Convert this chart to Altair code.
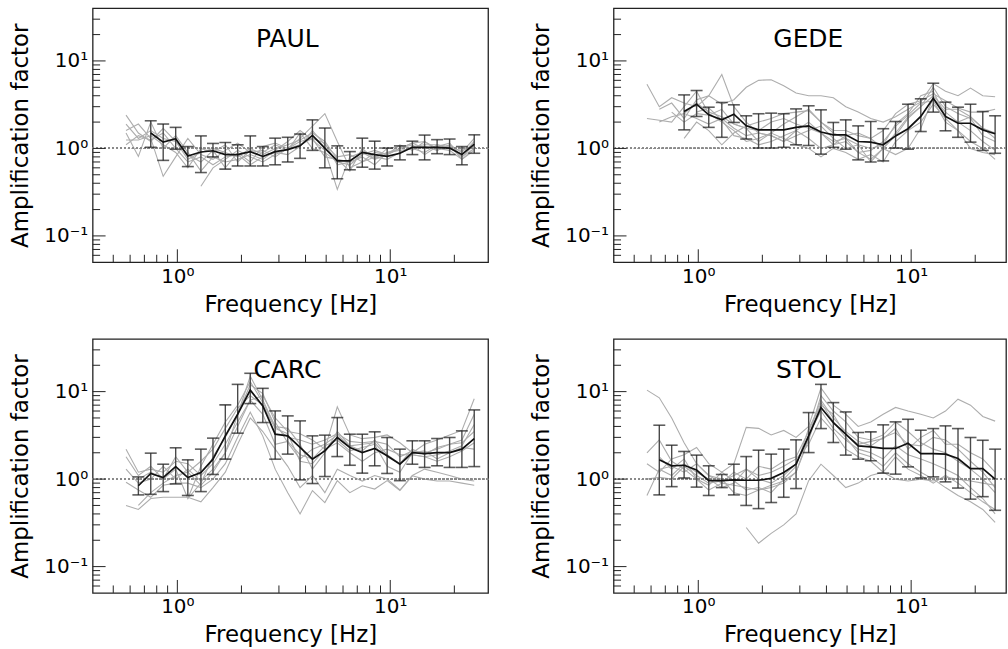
import altair as alt
import pandas as pd

# ---------------- data ----------------
FREQ = [0.574, 0.656, 0.75, 0.858, 0.982, 1.12, 1.29, 1.47, 1.68, 1.92, 2.20, 2.52, 2.88,
        3.30, 3.77, 4.31, 4.93, 5.64, 6.46, 7.39, 8.45, 9.67, 11.1, 12.7, 14.5, 16.6, 19.0, 21.7, 24.8]

N = None

PAUL_MEAN = [N, N, 1.50, 1.18, 1.29, 0.82, 0.91, 0.94, 0.85, 0.85, 0.92, 0.81, 0.92, 0.97, 1.07, 1.41,
             1.01, 0.72, 0.72, 0.90, 0.85, 0.81, 0.88, 1.03, 1.03, 1.03, 1.01, 0.85, 1.12]
PAUL_HI = [N, N, 2.07, 1.90, 1.74, 1.05, 1.39, 1.14, 1.17, 1.10, 1.39, 1.05, 1.31, 1.34, 1.46, 2.12,
           1.71, 1.07, 0.92, 1.31, 1.21, 1.01, 1.07, 1.21, 1.42, 1.26, 1.28, 1.05, 1.43]
PAUL_LO = [N, N, 1.03, 0.73, 0.98, 0.62, 0.53, 0.80, 0.58, 0.63, 0.63, 0.63, 0.65, 0.70, 0.77, 0.95,
           0.60, 0.45, 0.57, 0.61, 0.58, 0.63, 0.74, 0.85, 0.74, 0.87, 0.85, 0.65, 0.88]
PAUL_CURVES = [
    [1.9, 1.3, 1.6, 1.3, 1.2, 0.75, 0.9, 1.0, 0.9, 0.8, 1.0, 0.85, 1.0, 1.1, 1.25, 1.5, 1.2, 0.75, 0.7, 0.95, 0.8, 0.75, 0.9, 1.05, 1.1, 1.1, 1.05, 0.8, 1.1],
    [1.5, 0.81, 2.0, 1.0, 1.4, 0.9, 0.55, 0.8, 0.7, 0.75, 0.85, 0.75, 0.95, 1.2, 1.6, 1.25, 0.95, 0.34, 0.8, 0.9, 0.75, 0.85, 1.0, 1.15, 1.0, 1.05, 1.0, 0.85, 1.2],
    [2.4, 1.5, 1.2, 1.7, 1.2, 0.85, 0.7, 0.95, 0.6, 0.9, 0.7, 1.05, 1.15, 1.0, 1.3, 1.8, 2.5, 1.2, 0.6, 0.7, 0.9, 0.85, 1.1, 0.95, 1.2, 0.95, 1.1, 0.9, 1.3],
    [1.25, 1.25, 1.4, 1.1, 0.9, 0.6, 1.0, 0.9, 1.1, 0.7, 0.95, 0.9, 1.1, 0.95, 1.5, 1.0, 0.9, 0.7, 0.65, 0.85, 0.95, 0.85, 1.0, 1.1, 0.85, 1.05, 1.15, 0.8, 1.0],
    [1.6, 1.9, 1.3, 0.48, 0.8, 1.3, 0.85, 0.75, 0.95, 1.15, 0.9, 0.95, 0.8, 1.0, 1.2, 1.3, 0.8, 0.75, 0.55, 1.0, 0.75, 1.0, 1.05, 1.0, 0.9, 1.1, 1.0, 0.95, 1.05],
    [N, N, N, N, N, N, 0.37, 0.6, 0.75, 0.95, 0.8, 0.7, 0.85, 1.0, 1.1, 1.3, 1.15, 0.65, 0.7, 0.8, 0.65, 0.9, 0.95, 1.0, 1.05, 0.95, 1.1, 0.75, 1.0],
    [1.1, 1.4, 1.25, 1.5, 1.0, 0.7, 0.8, 0.65, 0.8, 0.85, 0.65, 0.8, 0.9, 0.85, 1.05, 1.6, 1.1, 0.8, 0.85, 0.7, 0.8, 0.9, 1.0, 1.15, 1.2, 1.0, 0.95, 0.75, 0.95],
]

GEDE_MEAN = [N, N, N, 2.64, 3.20, 2.42, 2.12, 2.46, 1.81, 1.63, 1.63, 1.63, 1.74, 1.81, 1.54, 1.43,
             1.43, 1.20, 1.18, 1.10, 1.39, 1.68, 2.32, 3.75, 2.32, 1.94, 1.94, 1.63, 1.47]
GEDE_HI = [N, N, N, 4.09, 4.59, 2.96, 3.35, 3.15, 2.36, 2.49, 2.53, 2.49, 2.83, 3.07, 2.76, 1.98,
           2.12, 1.81, 2.03, 1.68, 2.03, 3.20, 3.69, 5.56, 3.38, 2.96, 3.20, 2.64, 2.36]
GEDE_LO = [N, N, N, 1.63, 2.32, 1.74, 1.34, 1.98, 1.28, 1.01, 1.01, 1.03, 1.10, 1.08, 0.86, 1.03,
           0.98, 0.74, 0.70, 0.72, 1.01, 0.98, 1.56, 2.60, 1.59, 1.34, 1.18, 0.95, 0.88]
GEDE_CURVES = [
    [5.4, 3.0, 3.8, 3.3, 3.0, 4.0, 3.2, 3.6, 5.0, 6.0, 6.1, 5.2, 4.3, 4.0, 4.0, 3.8, 3.0, 2.6, 2.2, 2.0, 2.3, 2.8, 3.4, 5.5, 4.5, 4.0, 4.9, 4.0, 3.9],
    [2.2, 2.1, 2.0, 3.0, 4.5, 2.5, 2.0, 1.6, 1.2, 1.3, 1.5, 1.9, 2.3, 2.8, 2.0, 1.5, 1.3, 0.9, 0.75, 1.0, 1.4, 2.2, 3.0, 5.0, 3.0, 2.5, 2.2, 1.4, 1.2],
    [N, 2.8, 3.3, 2.2, 3.6, 4.0, 7.0, 3.0, 2.0, 1.5, 1.4, 1.2, 1.6, 2.0, 1.5, 1.1, 1.4, 1.5, 1.3, 1.0, 0.85, 1.0, 1.7, 3.8, 2.6, 2.0, 1.6, 1.2, 0.95],
    [N, N, 2.6, 2.0, 2.5, 2.4, 2.8, 1.9, 1.7, 1.2, 1.5, 1.3, 1.1, 1.0, 0.8, 1.0, 0.9, 0.75, 0.85, 0.7, 1.2, 1.6, 2.0, 3.2, 2.2, 1.6, 1.0, 0.9, 0.85],
    [N, 2.0, 2.3, 2.5, 2.2, 1.9, 2.2, 1.7, 1.4, 1.5, 1.4, 1.2, 1.4, 1.6, 1.8, 1.3, 1.0, 1.1, 0.7, 1.0, 1.5, 2.3, 3.0, 4.0, 2.8, 2.8, 2.3, 1.7, 1.5],
    [N, N, N, 1.3, 2.0, 1.6, 1.1, 1.5, 1.8, 2.0, 2.2, 2.5, 2.6, 2.7, 2.0, 1.6, 1.6, 1.4, 1.3, 1.6, 2.5, 3.2, 3.5, 4.2, 3.5, 2.9, 2.6, 2.6, 2.8],
    [N, N, N, N, 2.6, 2.9, 2.1, 1.4, 1.3, 1.1, 1.2, 1.4, 1.6, 1.3, 1.0, 1.1, 1.2, 0.9, 0.95, 1.2, 1.8, 2.4, 3.3, 3.5, 2.0, 1.6, 1.2, 1.0, 0.75],
    [N, N, N, 2.5, 3.3, 2.6, 2.3, 1.9, 1.7, 1.6, 2.0, 2.2, 1.9, 1.7, 1.5, 1.2, 1.3, 1.1, 1.0, 1.1, 1.9, 2.5, 4.0, 4.5, 2.3, 2.0, 2.3, 1.7, 1.3],
]

CARC_MEAN = [N, 0.84, 1.16, 1.04, 1.39, 1.04, 1.19, 1.69, 3.12, 5.51, 10.4, 6.87, 3.26, 3.12, 2.30,
             1.69, 2.10, 2.99, 2.30, 2.01, 2.24, 1.85, 1.48, 2.01, 1.96, 2.01, 2.01, 2.20, 2.91]
CARC_HI = [N, 1.06, 1.98, 1.48, 2.28, 1.66, 2.20, 2.94, 7.05, 12.1, 16.2, 10.9, 6.02, 5.28, 4.63,
           3.12, 3.18, 5.05, 3.26, 3.26, 3.47, 2.99, 2.20, 2.74, 2.74, 2.91, 2.99, 3.56, 6.18]
CARC_LO = [N, 0.66, 0.67, 0.72, 0.88, 0.65, 0.72, 1.13, 1.69, 3.35, 7.30, 4.43, 1.69, 1.93, 0.98,
           0.89, 1.07, 1.81, 1.44, 1.17, 1.42, 1.16, 0.96, 1.48, 1.36, 1.42, 1.36, 1.36, 1.39]
CARC_CURVES = [
    [2.2, 1.2, 1.3, 1.2, 1.6, 1.5, 1.1, 1.5, 2.5, 4.5, 8.0, 9.0, 5.0, 3.5, 3.3, 2.8, 2.2, 6.7, 3.2, 2.9, 3.0, 3.2, 2.6, 2.0, 2.5, 2.8, 3.2, 3.6, 8.3],
    [1.3, 0.9, 1.0, 1.4, 1.0, 1.3, 0.95, 1.3, 2.0, 5.5, 15.0, 8.0, 4.0, 3.8, 2.5, 1.3, 2.0, 3.5, 2.4, 2.1, 2.8, 1.9, 1.5, 2.2, 1.9, 2.3, 2.5, 2.8, 5.5],
    [0.92, 0.75, 0.62, 0.85, 0.9, 0.9, 0.8, 1.0, 1.5, 3.0, 5.8, 3.1, 1.3, 0.7, 0.4, 0.74, 0.54, 0.96, 0.7, 0.84, 0.77, 0.96, 0.74, 1.09, 1.0, 0.95, 0.95, 0.9, 0.85],
    [0.5, 0.45, 0.6, 0.62, 0.62, 0.62, 0.55, 0.8, 1.2, 2.5, 5.0, 3.5, 2.2, 1.4, 0.8, 1.1, 0.7, 1.3, 1.1, 0.95, 1.1, 1.0, 0.75, 1.1, 1.3, 1.2, 1.1, 1.0, 0.95],
    [N, 1.0, 1.2, 1.0, 1.3, 0.6, 1.4, 2.5, 4.5, 7.0, 13.0, 7.5, 4.0, 3.0, 2.8, 2.5, 2.8, 3.3, 2.7, 2.6, 2.7, 2.5, 1.8, 2.1, 2.0, 2.2, 2.5, 2.6, 3.5],
    [1.8, 1.1, 1.4, 1.0, 1.8, 1.2, 1.6, 2.2, 3.8, 6.5, 9.0, 7.0, 3.8, 3.3, 1.6, 1.5, 2.2, 2.6, 2.0, 1.6, 2.0, 2.2, 1.9, 1.9, 1.8, 1.6, 1.8, 2.1, 2.6],
    [N, 0.5, 0.7, 0.9, 1.1, 1.2, 0.85, 1.2, 2.0, 4.0, 8.0, 5.5, 2.5, 2.7, 1.9, 1.7, 2.4, 2.8, 2.1, 2.3, 2.5, 1.4, 1.2, 2.0, 2.1, 1.7, 2.0, 2.3, 2.2],
    [N, N, N, N, N, 0.6, 0.9, 1.8, 3.0, 5.5, 12.0, 9.5, 4.5, 2.6, 1.7, 2.2, 2.5, 3.2, 2.4, 2.5, 2.6, 1.8, 1.5, 1.9, 1.8, 1.9, 2.1, 2.4, 4.2],
]

STOL_MEAN = [N, 1.66, 1.42, 1.44, 1.27, 0.96, 0.96, 0.98, 0.97, 0.97, 1.02, 1.19, 1.48, 3.12, 6.57,
             4.43, 3.26, 2.40, 2.34, 2.24, 2.24, 2.57, 1.96, 1.96, 1.93, 1.72, 1.32, 1.32, 1.00]
STOL_HI = [N, 4.13, 2.44, 2.07, 1.88, 1.42, 1.13, 1.48, 1.81, 2.14, 1.93, 2.20, 2.81, 5.76, 12.1,
           7.49, 5.86, 3.41, 3.47, 4.17, 4.51, 4.83, 3.62, 3.78, 4.06, 3.78, 2.99, 2.78, 2.20]
STOL_LO = [N, 0.66, 0.82, 1.03, 0.81, 0.65, 0.80, 0.66, 0.50, 0.46, 0.54, 0.62, 0.78, 2.01, 3.78,
           2.62, 1.88, 1.69, 1.62, 1.17, 1.14, 1.38, 1.03, 1.06, 0.93, 0.79, 0.59, 0.63, 0.44]
STOL_CURVES = [
    [10.4, 8.5, 5.0, 2.6, 1.5, 1.1, 0.9, 0.85, 0.8, 0.75, 0.8, 0.9, 1.2, 3.0, 9.0, 6.0, 4.5, 3.0, 2.8, 3.2, 4.5, 3.5, 2.6, 2.2, 2.0, 1.6, 1.3, 1.0, 0.7],
    [N, N, N, N, N, N, N, N, 0.28, 0.185, 0.24, 0.30, 0.40, 0.96, 1.48, 1.1, 0.8, 0.9, 1.1, 1.2, 1.0, 0.95, 1.0, 0.95, 1.05, 1.0, 0.95, 0.9, 0.85],
    [1.5, 1.2, 1.7, 1.9, 2.3, 1.5, 1.2, 1.5, 3.9, 3.8, 3.2, 3.6, 3.0, 4.0, 11.0, 7.0, 5.5, 4.0, 4.5, 5.5, 6.6, 6.0, 5.5, 5.0, 6.0, 8.2, 7.0, 5.2, 4.6],
    [2.0, 2.8, 1.6, 1.3, 1.0, 0.75, 0.9, 1.2, 1.0, 1.4, 1.3, 1.6, 1.8, 3.5, 8.0, 5.0, 3.5, 2.7, 2.4, 3.0, 3.4, 2.5, 2.4, 3.0, 2.8, 2.2, 1.6, 1.2, 0.8],
    [0.65, 1.3, 1.4, 1.2, 1.5, 1.1, 1.0, 0.7, 0.65, 0.75, 0.85, 0.95, 1.2, 2.8, 7.5, 4.5, 3.0, 2.0, 1.8, 1.4, 2.0, 1.5, 1.2, 1.0, 0.8, 0.65, 0.55, 0.45, 0.32],
    [1.0, 1.05, 1.0, 1.4, 1.1, 0.9, 0.95, 1.1, 1.3, 1.0, 0.9, 1.1, 1.5, 3.2, 6.0, 3.8, 2.8, 2.2, 2.0, 1.7, 2.4, 1.9, 1.7, 1.5, 1.3, 1.1, 0.8, 0.6, 0.4],
    [N, 1.8, 1.3, 1.7, 1.0, 0.85, 1.2, 0.95, 0.75, 0.8, 0.7, 1.0, 1.4, 3.8, 7.0, 5.5, 3.2, 2.5, 2.7, 2.9, 3.8, 2.2, 3.0, 3.6, 2.5, 2.5, 2.0, 1.7, 1.2],
    [N, 1.3, 1.1, 1.5, 1.2, 1.0, 0.8, 0.9, 1.3, 1.1, 1.2, 1.4, 1.7, 2.5, 5.0, 3.5, 2.2, 1.8, 1.6, 1.2, 1.8, 1.3, 1.1, 0.9, 1.1, 0.9, 0.7, 0.55, 0.45],
]

X_MAJOR = [1, 10]
X_MINOR = [0.5, 0.6, 0.7, 0.8, 0.9, 2, 3, 4, 5, 6, 7, 8, 9, 20]
Y_MAJOR = [0.1, 1, 10]
Y_MINOR = [0.06, 0.07, 0.08, 0.09, 0.2, 0.3, 0.4, 0.5, 0.6, 0.7, 0.8, 0.9,
           2, 3, 4, 5, 6, 7, 8, 9, 20, 30]

FONT = "DejaVu Sans"
H = 255


def panel(name, mean, lo, hi, curves, width, xmax):
    xscale = alt.Scale(type="log", domain=[0.4, xmax], nice=False)
    yscale = alt.Scale(type="log", domain=[0.05, 40], nice=False)
    xaxis = alt.Axis(values=X_MAJOR, labelExpr="datum.value >= 5 ? '10\u00b9' : '10\u2070'",
                     ticks=False, tickSize=0, domain=False, grid=False, labelPadding=4,
                     labelFontSize=20, labelFont=FONT, labelColor="black",
                     title="Frequency [Hz]", titleFontSize=23, titleFont=FONT,
                     titleFontWeight="normal", titleColor="black",
                     titleY=49, titleBaseline="alphabetic")
    yaxis = alt.Axis(values=Y_MAJOR,
                     labelExpr="datum.value >= 5 ? '10\u00b9' : (datum.value >= 0.5 ? '10\u2070' : '10\u207b\u00b9')",
                     ticks=False, tickSize=0, domain=False, grid=False, labelPadding=5,
                     labelFontSize=20, labelFont=FONT, labelColor="black",
                     title="Amplification factor", titleFontSize=23, titleFont=FONT,
                     titleFontWeight="normal", titleColor="black",
                     titleX=-60, titleY=H / 2, titleBaseline="bottom", titleAngle=270)

    def X(field):
        return alt.X(field, type="quantitative", scale=xscale, axis=xaxis, title="Frequency [Hz]")

    def Y(field):
        return alt.Y(field, type="quantitative", scale=yscale, axis=yaxis, title="Amplification factor")

    rows = []
    for ci, cur in enumerate(curves):
        for f, v in zip(FREQ, cur):
            if v is not None:
                rows.append({"c": ci, "f": f, "v": v})
    gdf = pd.DataFrame(rows)
    mrows = [{"f": f, "m": m, "lo": l, "hi": h}
             for f, m, l, h in zip(FREQ, mean, lo, hi) if m is not None]
    mdf = pd.DataFrame(mrows)

    gray = alt.Chart(gdf).mark_line(color="#adadad", strokeWidth=1.1).encode(
        x=X("f"), y=Y("v"), detail="c:N")
    one = alt.Chart(mdf).mark_rule(color="#8a8a8a", strokeDash=[1.5, 2.5], strokeWidth=1.3).encode(
        y=alt.datum(1))
    stems = alt.Chart(mdf).mark_rule(color="#4a4a4a", strokeWidth=1.4).encode(
        x=X("f"), y=Y("lo"), y2="hi")
    cap_lo = alt.Chart(mdf).mark_tick(orient="horizontal", size=12, thickness=1.6, color="#1a1a1a").encode(
        x=X("f"), y=Y("lo"))
    cap_hi = alt.Chart(mdf).mark_tick(orient="horizontal", size=12, thickness=1.6, color="#1a1a1a").encode(
        x=X("f"), y=Y("hi"))
    mline = alt.Chart(mdf).mark_line(color="#111111", strokeWidth=1.7).encode(
        x=X("f"), y=Y("m"))

    xmaj = alt.Chart(pd.DataFrame({"t": X_MAJOR})).mark_rule(color="#222222", strokeWidth=1).encode(
        x=X("t"), y=alt.value(H), y2=alt.value(H - 13))
    xmin = alt.Chart(pd.DataFrame({"t": X_MINOR})).mark_rule(color="#222222", strokeWidth=1).encode(
        x=X("t"), y=alt.value(H), y2=alt.value(H - 7.5))
    ymaj = alt.Chart(pd.DataFrame({"t": Y_MAJOR})).mark_rule(color="#222222", strokeWidth=1).encode(
        y=Y("t"), x=alt.value(0), x2=alt.value(13))
    ymin = alt.Chart(pd.DataFrame({"t": Y_MINOR})).mark_rule(color="#222222", strokeWidth=1).encode(
        y=Y("t"), x=alt.value(0), x2=alt.value(7.5))

    label = alt.Chart(pd.DataFrame({"s": [name]})).mark_text(
        fontSize=25, font=FONT, baseline="alphabetic", align="center", color="black").encode(
        text="s:N", x=alt.value(397 / 2 - 3), y=alt.value(39))

    return alt.layer(gray, one, stems, cap_lo, cap_hi, mline, xmaj, xmin, ymaj, ymin, label).properties(
        width=width, height=H)


p1 = panel("PAUL", PAUL_MEAN, PAUL_LO, PAUL_HI, PAUL_CURVES, 397, 28.8)
p2 = panel("GEDE", GEDE_MEAN, GEDE_LO, GEDE_HI, GEDE_CURVES, 394, 27.9)
p3 = panel("CARC", CARC_MEAN, CARC_LO, CARC_HI, CARC_CURVES, 397, 28.8)
p4 = panel("STOL", STOL_MEAN, STOL_LO, STOL_HI, STOL_CURVES, 394, 27.9)

chart = alt.vconcat(
    alt.hconcat(p1, p2, spacing=40),
    alt.hconcat(p3, p4, spacing=40),
    spacing=21,
).properties(
    padding={"left": 9, "top": 6, "right": 0, "bottom": 0},
    background="white",
).configure_view(
    stroke="#222222", strokeWidth=1.3
)

chart.save("out.html", embed_options={"renderer": "svg", "actions": False})
